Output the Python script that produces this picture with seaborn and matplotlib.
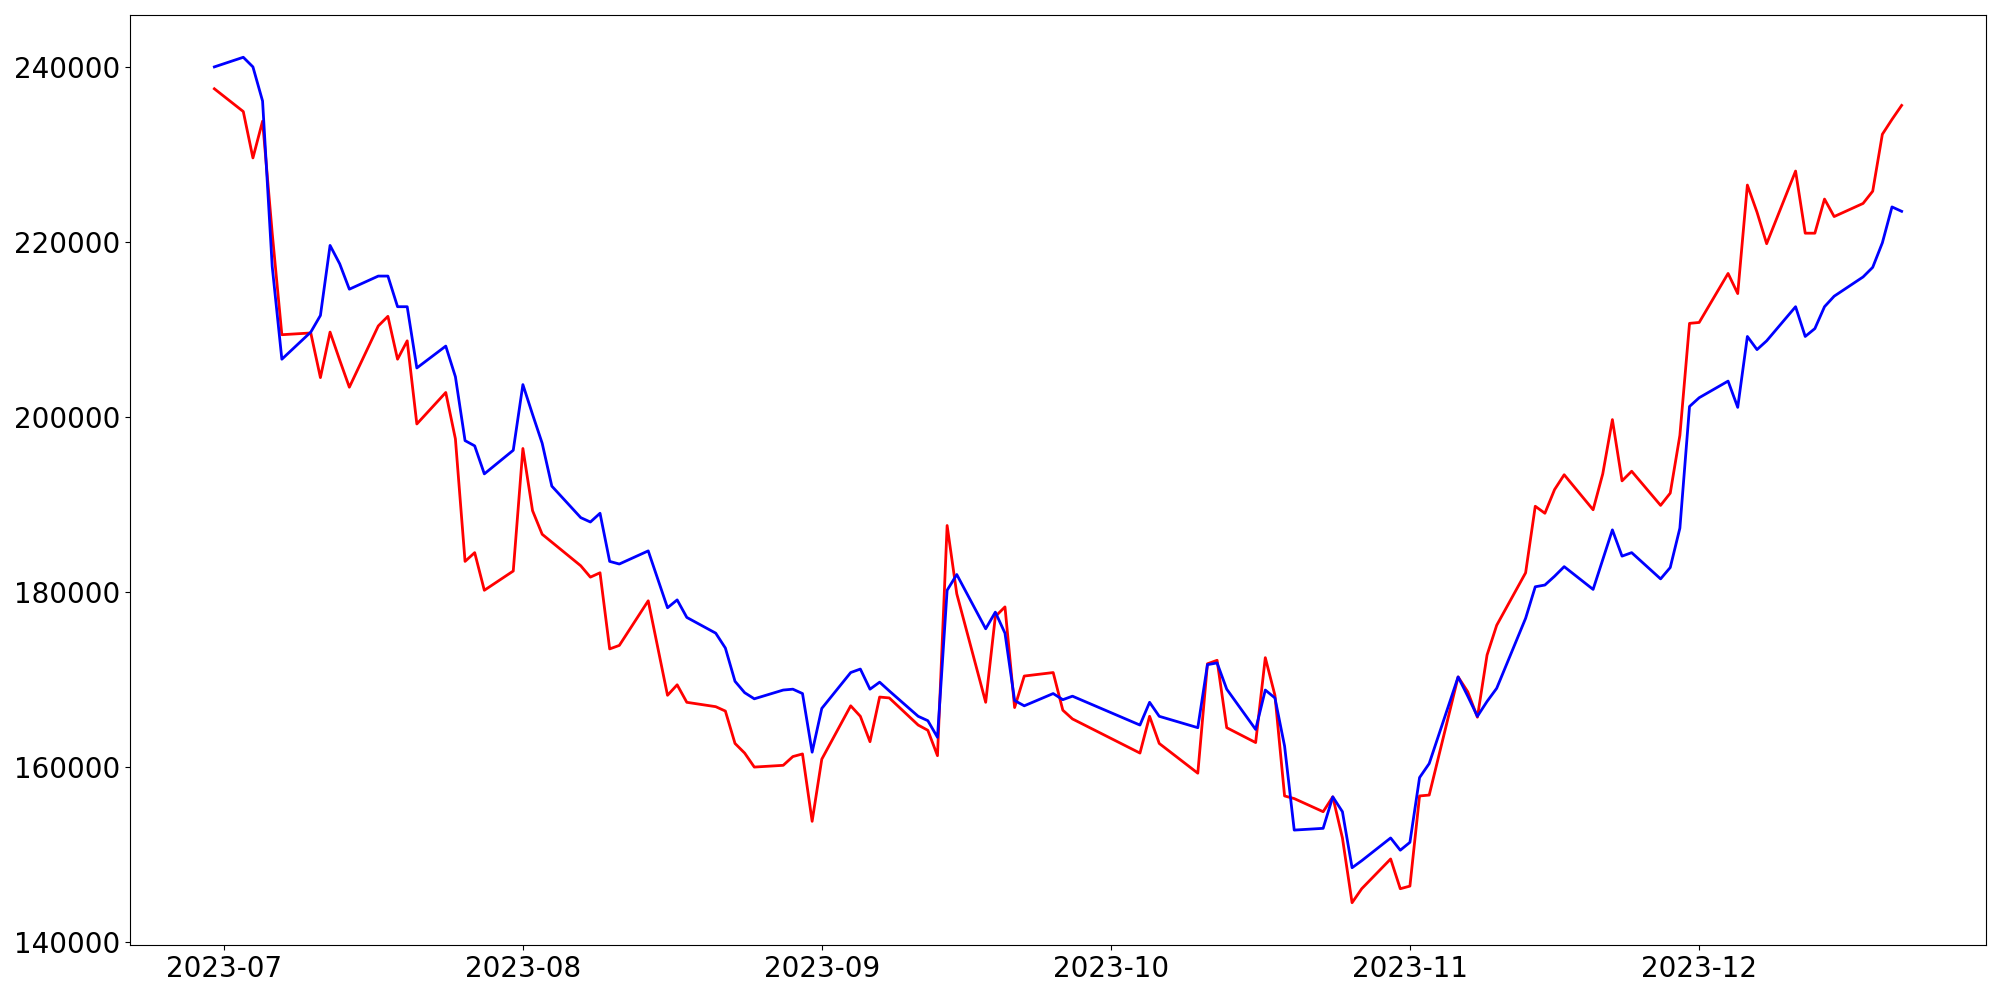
import pandas as pd
import seaborn as sns
import matplotlib.pyplot as plt

# trading days (KRX calendar), 2023-06-30 .. 2023-12-22
dates = [
    "2023-06-30",
    "2023-07-03", "2023-07-04", "2023-07-05", "2023-07-06", "2023-07-07",
    "2023-07-10", "2023-07-11", "2023-07-12", "2023-07-13", "2023-07-14",
    "2023-07-17", "2023-07-18", "2023-07-19", "2023-07-20", "2023-07-21",
    "2023-07-24", "2023-07-25", "2023-07-26", "2023-07-27", "2023-07-28",
    "2023-07-31",
    "2023-08-01", "2023-08-02", "2023-08-03", "2023-08-04",
    "2023-08-07", "2023-08-08", "2023-08-09", "2023-08-10", "2023-08-11",
    "2023-08-14", "2023-08-16", "2023-08-17", "2023-08-18",
    "2023-08-21", "2023-08-22", "2023-08-23", "2023-08-24", "2023-08-25",
    "2023-08-28", "2023-08-29", "2023-08-30", "2023-08-31",
    "2023-09-01",
    "2023-09-04", "2023-09-05", "2023-09-06", "2023-09-07", "2023-09-08",
    "2023-09-11", "2023-09-12", "2023-09-13", "2023-09-14", "2023-09-15",
    "2023-09-18", "2023-09-19", "2023-09-20", "2023-09-21", "2023-09-22",
    "2023-09-25", "2023-09-26", "2023-09-27",
    "2023-10-04", "2023-10-05", "2023-10-06",
    "2023-10-10", "2023-10-11", "2023-10-12", "2023-10-13",
    "2023-10-16", "2023-10-17", "2023-10-18", "2023-10-19", "2023-10-20",
    "2023-10-23", "2023-10-24", "2023-10-25", "2023-10-26", "2023-10-27",
    "2023-10-30", "2023-10-31",
    "2023-11-01", "2023-11-02", "2023-11-03",
    "2023-11-06", "2023-11-07", "2023-11-08", "2023-11-09", "2023-11-10",
    "2023-11-13", "2023-11-14", "2023-11-15", "2023-11-16", "2023-11-17",
    "2023-11-20", "2023-11-21", "2023-11-22", "2023-11-23", "2023-11-24",
    "2023-11-27", "2023-11-28", "2023-11-29", "2023-11-30",
    "2023-12-01",
    "2023-12-04", "2023-12-05", "2023-12-06", "2023-12-07", "2023-12-08",
    "2023-12-11", "2023-12-12", "2023-12-13", "2023-12-14", "2023-12-15",
    "2023-12-18", "2023-12-19", "2023-12-20", "2023-12-21", "2023-12-22",
]

blue_values = [
    240000,
    241100, 240000, 236100, 217200, 206600,
    209700, 211600, 219600, 217500, 214600,
    216100, 216100, 212600, 212600, 205600,
    208100, 204600, 197300, 196700, 193500,
    196200,
    203700, 200300, 197000, 192100,
    188500, 188000, 189000, 183500, 183200,
    184700, 178200, 179100, 177100,
    175300, 173600, 169800, 168500, 167800,
    168800, 168900, 168400, 161700,
    166700,
    170800, 171200, 168900, 169700, 168700,
    165800, 165300, 163400, 180200, 182000,
    175800, 177700, 175300, 167600, 167000,
    168400, 167700, 168100,
    164800, 167400, 165800,
    164500, 171700, 171900, 168900,
    164300, 168800, 167900, 162400, 152800,
    153000, 156600, 154900, 148500, 149300,
    151900, 150500,
    151400, 158800, 160400,
    170300, 168100, 165800, 167500, 169000,
    177000, 180600, 180800, 181800, 182900,
    180300, 183700, 187100, 184100, 184500,
    181500, 182800, 187300, 201200,
    202200,
    204100, 201100, 209200, 207700, 208700,
    212600, 209200, 210100, 212600, 213800,
    216000, 217100, 219900, 224000, 223500,
]

red_values = [
    237500,
    234900, 229600, 233800, 221000, 209400,
    209600, 204500, 209700, 206500, 203400,
    210400, 211500, 206600, 208700, 199200,
    202800, 197500, 183500, 184500, 180200,
    182400,
    196400, 189300, 186600, 185700,
    183000, 181700, 182200, 173500, 173900,
    179000, 168200, 169400, 167400,
    166900, 166400, 162700, 161600, 160000,
    160200, 161200, 161500, 153800,
    160900,
    167000, 165800, 162900, 168000, 167900,
    164800, 164200, 161300, 187600, 179800,
    167400, 177200, 178300, 166800, 170400,
    170800, 166500, 165500,
    161600, 165800, 162700,
    159300, 171800, 172200, 164500,
    162800, 172500, 168200, 156700, 156400,
    154900, 156600, 151900, 144500, 146100,
    149500, 146100,
    146400, 156700, 156800,
    170300, 168600, 165700, 172800, 176200,
    182200, 189800, 189000, 191700, 193400,
    189400, 193500, 199700, 192700, 193800,
    189900, 191300, 197900, 210700,
    210800,
    216400, 214100, 226500, 223400, 219800,
    228100, 221000, 221000, 224900, 222900,
    224400, 225800, 232300, 234000, 235600,
]

df = pd.DataFrame({
    "date": pd.to_datetime(dates),
    "red": red_values,
    "blue": blue_values,
})

fig, ax = plt.subplots(figsize=(20, 10), dpi=100)
sns.lineplot(data=df, x="date", y="red", color="red", linewidth=2, ax=ax)
sns.lineplot(data=df, x="date", y="blue", color="blue", linewidth=2, ax=ax)

ax.set_xlabel("")
ax.set_ylabel("")
ax.tick_params(labelsize=20)

fig.subplots_adjust(left=0.065, right=0.993, top=0.985, bottom=0.055)
fig.savefig("out.png")
